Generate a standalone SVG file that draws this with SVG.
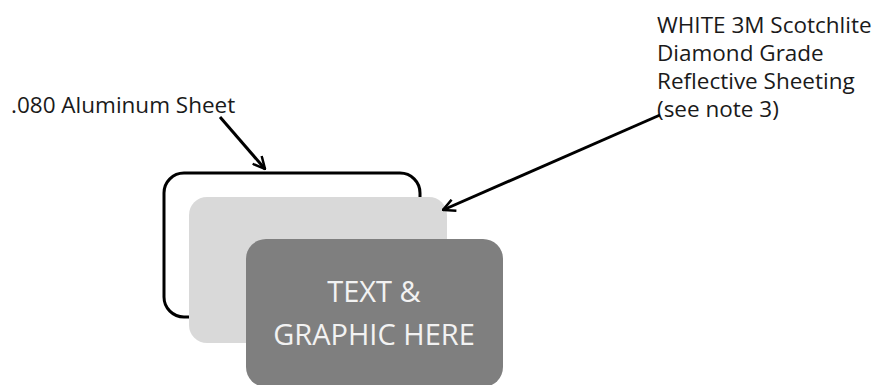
<svg xmlns="http://www.w3.org/2000/svg" width="880" height="385" viewBox="0 0 880 385">
<defs>
<style>
.lbl{font-family:"Open Sans","Liberation Sans",sans-serif;font-size:22.5px;fill:#1a1a1a}
.big{font-family:"Open Sans","Liberation Sans",sans-serif;font-size:29px;fill:#f2f2f2;text-anchor:middle}
.conn{stroke:#000;stroke-width:3;fill:none}
</style>
<marker id="ah" viewBox="0 0 14 14" refX="13" refY="7" markerWidth="14" markerHeight="14" markerUnits="userSpaceOnUse" orient="auto">
<path d="M1,1 L13,7 L1,13" fill="none" stroke="#000" stroke-width="2.5"/>
</marker>
</defs>
<rect width="880" height="385" fill="#fff"/>
<g id="aluminum-sheet">
<rect x="164" y="173" width="256" height="144" rx="20" fill="#fff" stroke="#000" stroke-width="3"/>
</g>
<g id="reflective-sheeting">
<rect x="189" y="197" width="258" height="146" rx="18" fill="#d9d9d9"/>
</g>
<g id="text-graphic">
<rect x="246" y="239" width="257" height="148" rx="20" fill="#7f7f7f"/>
<text class="big" x="374" y="302">TEXT &amp;</text>
<text class="big" x="374" y="345">GRAPHIC HERE</text>
</g>
<g id="label-aluminum">
<text class="lbl" x="11" y="113">.080 Aluminum Sheet</text>
</g>
<g id="label-reflective">
<text class="lbl" x="657" y="33">WHITE 3M Scotchlite</text>
<text class="lbl" x="657" y="61">Diamond Grade</text>
<text class="lbl" x="657" y="89">Reflective Sheeting</text>
<text class="lbl" x="657" y="117">(see note 3)</text>
</g>
<g id="connectors">
<line class="conn" x1="220" y1="117" x2="265" y2="169" marker-end="url(#ah)"/>
<line class="conn" x1="660" y1="115" x2="443" y2="210" marker-end="url(#ah)"/>
</g>
</svg>
